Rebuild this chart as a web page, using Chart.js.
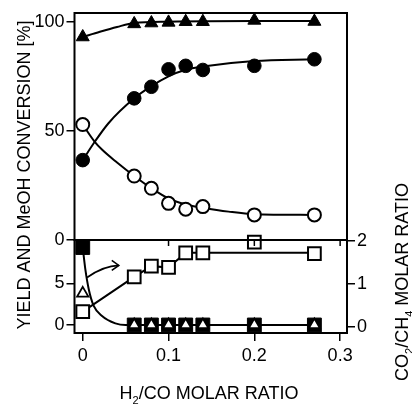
<!DOCTYPE html>
<html>
<head>
<meta charset="utf-8">
<script src="https://cdn.jsdelivr.net/npm/chart.js@4.4.0/dist/chart.umd.min.js"></script>
<style>
  html, body { margin: 0; padding: 0; background: #fff; }
  #wrap { position: relative; width: 412px; height: 404px; }
  #wrap canvas { position: absolute; left: 0; top: 0; }
</style>
</head>
<body>
<div id="wrap">
  <canvas id="lower" width="412" height="404"></canvas>
  <canvas id="upper" width="412" height="404"></canvas>
</div>
<script>
// H2/CO molar ratio of each run
const ratio = [0, 0.06, 0.08, 0.10, 0.12, 0.14, 0.20, 0.27];

// upper panel, %
const conversion = [93, 99, 99.4, 99.7, 100, 100, 100.6, 100.1];   // filled triangles
const yieldFilled = [36.6, 64.9, 70.2, 78.2, 79.8, 77.9, 79.8, 82.8]; // filled circles
const yieldOpen = [52.9, 29.3, 23.7, 16.8, 14.1, 15.3, 11.5, 11.5];   // open circles

// lower panel: % on the left axis, CO2/CH4 on the right axis
const yieldSquare = [9.3, 0, 0, 0, 0, 0, 0, 0];
const yieldTriangle = [3.8, 0, 0, 0, 0, 0, 0, 0];
const co2ch4 = [0.35, 1.16, 1.41, 1.38, 1.72, 1.72, 1.97, 1.70];

// the hand-drawn trend lines
const convFitX = [0, 0.02, 0.04, 0.06, 0.1, 0.2, 0.27];
const convFitY = [93, 95.4, 97.6, 99.4, 100, 100.3, 100.3];
const filledFitX = [0, 0.014, 0.03, 0.06, 0.08, 0.1, 0.12, 0.14, 0.2, 0.27];
const filledFitY = [36.6, 45, 53.5, 64.9, 70.5, 75, 78, 79.5, 82, 82.8];
const openFitX = [0, 0.014, 0.023, 0.04, 0.06, 0.08, 0.1, 0.12, 0.14, 0.17, 0.2, 0.27];
const openFitY = [52.9, 45, 41.2, 35.5, 29.3, 23.7, 19, 16.3, 14.8, 13, 11.8, 11.5];
const decayFitX = [0, 0.003, 0.007, 0.0128, 0.0225, 0.038, 0.05, 0.27];
const decayFitY = [9.3, 6.7, 4.3, 2.3, 1.08, 0.2, 0, 0];
const ratioFitX = [0, 0.06, 0.08, 0.1, 0.12, 0.14, 0.27];
const ratioFitY = [0.35, 1.16, 1.41, 1.38, 1.72, 1.72, 1.72];

// tick labels
const xTicks = [0, 0.1, 0.2, 0.3];
const upperTicks = [0, 50, 100];
const lowerTicks = [0, 5];
const rightTicks = [0, 1, 2];

// arrow pointing at the right axis (x, left-axis %)
const arrowPath = [[0.005, 5.7], [0.0245, 7.1], [0.042, 7.15]];

const family = 'Liberation Sans, Arial, sans-serif';
const tickFont = { family, size: 18 };
const xMin = -0.0096, xMax = 0.308;

const pts = (xs, ys) => xs.map((x, i) => ({ x, y: ys[i] }));
const fixTicks = list => s => { s.ticks = list.map(v => ({ value: v })); };

const markers = (data, style, radius, filled, extra) => Object.assign({
  data: pts(ratio, data),
  pointStyle: style,
  pointRadius: radius,
  pointBackgroundColor: filled ? '#000' : '#fff',
  pointBorderColor: '#000',
  pointBorderWidth: filled ? 1 : 2,
  clip: false,
  order: 0
}, extra);

const curve = (xs, ys, extra) => Object.assign({
  data: pts(xs, ys),
  showLine: true,
  pointRadius: 0,
  borderColor: '#000',
  borderWidth: 2,
  cubicInterpolationMode: 'monotone',
  order: 5
}, extra);

const yAxis = (min, max, list, width, position) => ({
  type: 'linear',
  position,
  min, max,
  afterFit: s => { s.width = width; },
  afterBuildTicks: fixTicks(list),
  grid: { drawOnChartArea: false, tickLength: 8, color: '#000', lineWidth: 1.5 },
  border: { display: false },
  ticks: { color: '#000', font: tickFont, padding: 2 }
});

const frame = {
  id: 'frame',
  afterDraw(chart, args, opts) {
    const { ctx, chartArea: a } = chart;
    ctx.save();
    ctx.strokeStyle = '#000';
    ctx.lineWidth = 2;
    ctx.strokeRect(a.left, a.top, a.right - a.left, a.bottom - a.top);
    ctx.lineWidth = 1.5;
    (opts.topTicks || []).forEach(v => {
      const px = chart.scales.x.getPixelForValue(v);
      ctx.beginPath();
      ctx.moveTo(px, a.top);
      ctx.lineTo(px, a.top + 6);
      ctx.stroke();
    });
    ctx.restore();
  }
};

const arrow = {
  id: 'arrow',
  afterDatasetsDraw(chart) {
    const { ctx, scales } = chart;
    const p = arrowPath.map(([x, y]) => [scales.x.getPixelForValue(x), scales.y.getPixelForValue(y)]);
    ctx.save();
    ctx.strokeStyle = '#000';
    ctx.lineWidth = 1.6;
    ctx.beginPath();
    ctx.moveTo(p[0][0], p[0][1]);
    ctx.quadraticCurveTo(p[1][0], p[1][1], p[2][0], p[2][1]);
    ctx.stroke();
    const [ex, ey] = p[2];
    ctx.beginPath();
    ctx.moveTo(ex - 7, ey - 5);
    ctx.lineTo(ex, ey);
    ctx.lineTo(ex - 7, ey + 5);
    ctx.stroke();
    ctx.restore();
  }
};

// text with optional subscript pieces, centred on the current origin
function drawRich(ctx, parts, size) {
  const sub = Math.round(size * 0.6);
  const fontOf = s => `${s ? sub : size}px ${family}`;
  let w = 0;
  parts.forEach(([t, s]) => { ctx.font = fontOf(s); w += ctx.measureText(t).width; });
  let x = -w / 2;
  parts.forEach(([t, s]) => {
    ctx.font = fontOf(s);
    ctx.fillText(t, x, s ? size * 0.28 : 0);
    x += ctx.measureText(t).width;
  });
}

const titles = {
  id: 'titles',
  afterDraw(chart) {
    const ctx = chart.ctx;
    ctx.save();
    ctx.fillStyle = '#000';
    ctx.textAlign = 'left';
    ctx.textBaseline = 'alphabetic';

    ctx.save();
    ctx.translate(30, 175);
    ctx.rotate(-Math.PI / 2);
    drawRich(ctx, [['YIELD AND MeOH CONVERSION [%]', false]], 18);
    ctx.restore();

    ctx.save();
    ctx.translate(408, 282);
    ctx.rotate(-Math.PI / 2);
    drawRich(ctx, [['CO', false], ['2', true], ['/CH', false], ['4', true], [' MOLAR RATIO', false]], 18);
    ctx.restore();

    ctx.save();
    ctx.translate(209, 399);
    drawRich(ctx, [['H', false], ['2', true], ['/CO MOLAR RATIO', false]], 18);
    ctx.restore();

    ctx.restore();
  }
};

new Chart(document.getElementById('upper'), {
  type: 'scatter',
  data: {
    datasets: [
      markers(conversion, 'triangle', 7.5, true),
      markers(yieldFilled, 'circle', 6.8, true),
      markers(yieldOpen, 'circle', 6.5, false),
      curve(convFitX, convFitY),
      curve(filledFitX, filledFitY),
      curve(openFitX, openFitY)
    ]
  },
  options: {
    responsive: false,
    animation: false,
    events: [],
    layout: { padding: { top: 13, right: 65, bottom: 164, left: 0 } },
    plugins: { legend: { display: false }, tooltip: { enabled: false } },
    scales: {
      x: { type: 'linear', min: xMin, max: xMax, display: false },
      y: yAxis(0, 104, upperTicks, 74.5, 'left')
    }
  },
  plugins: [frame, titles]
});

new Chart(document.getElementById('lower'), {
  type: 'scatter',
  data: {
    datasets: [
      markers(yieldTriangle, 'triangle', 6.5, false, { pointBorderWidth: 1.8 }),
      markers(yieldSquare, 'rect', 9.8, true, { order: 1 }),
      markers(co2ch4, 'rect', 9, false, { yAxisID: 'y1', order: 2 }),
      curve(decayFitX, decayFitY),
      curve(ratioFitX, ratioFitY, { yAxisID: 'y1', cubicInterpolationMode: 'default', tension: 0 })
    ]
  },
  options: {
    responsive: false,
    animation: false,
    events: [],
    layout: { padding: { top: 240, right: 0, bottom: 0, left: 0 } },
    plugins: {
      legend: { display: false },
      tooltip: { enabled: false },
      frame: { topTicks: [0.1, 0.2, 0.3] }
    },
    scales: {
      x: {
        type: 'linear',
        min: xMin, max: xMax,
        afterFit: s => { s.height = 71; },
        afterBuildTicks: fixTicks(xTicks),
        grid: { drawOnChartArea: false, tickLength: 8, color: '#000', lineWidth: 1.5 },
        border: { display: false },
        ticks: { color: '#000', font: tickFont, padding: 4 }
      },
      y: yAxis(-0.96, 10.2, lowerTicks, 74.5, 'left'),
      y1: yAxis(-0.15, 2.02, rightTicks, 65, 'right')
    }
  },
  plugins: [frame, arrow]
});
</script>
</body>
</html>
